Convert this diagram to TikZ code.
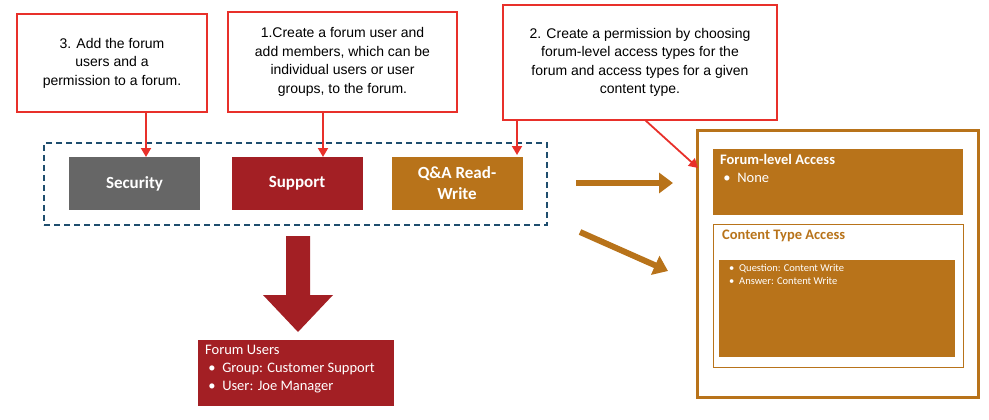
\documentclass[tikz,border=0pt]{standalone}
\usepackage{fontspec}
\setmainfont{Liberation Sans}
\newfontfamily\calfont{Carlito}
\usetikzlibrary{arrows.meta}
\definecolor{rd}{HTML}{E8302A}
\definecolor{brn}{HTML}{B8731A}
\definecolor{dred}{HTML}{A31F24}
\definecolor{gry}{HTML}{666666}
\definecolor{nav}{HTML}{1F4E6E}
\begin{document}
\begin{tikzpicture}[x=1pt,y=-1pt,
  note/.style={draw=rd,line width=1.5pt,fill=white,align=center,font=\fontsize{14}{18.5}\selectfont,inner sep=2pt},
  btn/.style={minimum width=131pt,minimum height=53pt,text=white,font=\calfont\bfseries\fontsize{17}{21}\selectfont,align=center},
  rarr/.style={-{Triangle[length=9pt,width=10pt]},rd,line width=1.8pt},
  barr/.style={-{Triangle[length=14pt,width=20pt]},brn,line width=6pt}]
\useasboundingbox (0,0) rectangle (989,420);
\node[note,minimum width=190pt,minimum height=98pt] (n3) at (112,63) {3. Add the forum\\users and a\\permission to a forum.};
\node[note,minimum width=229pt,minimum height=100pt] (n1) at (342.5,62) {1.Create a forum user and\\add members, which can be\\individual users or user\\groups, to the forum.};
\node[note,minimum width=274pt,minimum height=115pt] (n2) at (640,62.5) {2. Create a permission by choosing\\forum-level access types for the\\forum and access types for a given\\content type.};
\node[draw=nav,line width=1.5pt,minimum width=503pt,minimum height=82pt,dash pattern=on 6pt off 4pt] (grp) at (295.5,184) {};
\node[btn,fill=gry] (sec) at (134.5,183.5) {Security};
\node[btn,fill=dred] (sup) at (297,183.5) {Support};
\node[btn,fill=brn] (qa) at (457,183.5) {Q\&A Read-\\Write};
\coordinate (a3) at (146,112); \coordinate (b3) at (146,157);
\coordinate (a1) at (323,112); \coordinate (b1) at (323,157);
\coordinate (a2) at (517,120); \coordinate (b2) at (517,155);
\draw[rarr] (a3) -- (b3);
\draw[rarr] (a1) -- (b1);
\draw[rarr] (a2) -- (b2);
\node[draw=brn,line width=3pt,minimum width=281pt,minimum height=267pt] (perm) at (837.5,263.5) {};
\node[fill=brn,minimum width=250pt,minimum height=66pt] (fla) at (838,182) {};
\node[anchor=north west,text=white,font=\calfont\bfseries\fontsize{14.5}{17}\selectfont,align=left,inner sep=0pt] (flt) at (720,154) {Forum-level Access\\[1pt]{\normalfont\calfont\fontsize{14.5}{17}\selectfont\ \textbullet\ \ None}};
\node[draw=brn,line width=0.8pt,fill=white,minimum width=250pt,minimum height=143pt] (cta) at (838,295.5) {};
\node[anchor=north west,text=brn,font=\calfont\bfseries\fontsize{14.5}{17}\selectfont,inner sep=0pt] (ctt) at (722,230) {Content Type Access};
\node[fill=brn,minimum width=236pt,minimum height=97pt] (cti) at (837,308.5) {};
\node[anchor=north west,text=white,font=\calfont\fontsize{10.5}{13.5}\selectfont,align=left,inner sep=0pt] (ctl) at (729,264) {\textbullet\ \ Question: Content Write\\\textbullet\ \ Answer: Content Write};
\coordinate (c2) at (645,120);
\coordinate (d2) at (698,168);
\draw[rarr] (c2) -- (d2);
\coordinate (p1) at (576,183); \coordinate (q1) at (673,183);
\coordinate (p2) at (580,232); \coordinate (q2) at (668,271);
\draw[barr] (p1) -- (q1);
\draw[barr] (p2) -- (q2);
\fill[dred] (286,236) -- (310,236) -- (310,295) -- (333,295) -- (298,332) -- (263,295) -- (286,295) -- cycle;
\node[fill=dred,minimum width=196pt,minimum height=66pt] (fu) at (296,373) {};
\node[anchor=north west,text=white,font=\calfont\fontsize{14.5}{18}\selectfont,align=left,inner sep=0pt] at (205,345) {Forum Users\\\ \textbullet\ \ Group: Customer Support\\\ \textbullet\ \ User: Joe Manager};
\end{tikzpicture}
\end{document}
